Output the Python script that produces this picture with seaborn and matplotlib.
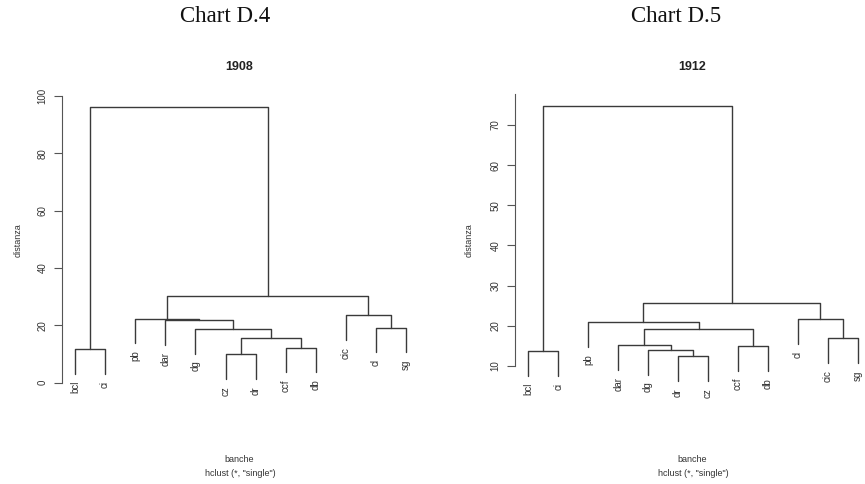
import matplotlib
matplotlib.use("Agg")
import matplotlib.pyplot as plt
import seaborn as sns
import pandas as pd

# ---------------- data ----------------
chart_titles = ["Chart D.4", "Chart D.5"]
panel_titles = ["1908", "1912"]

labels_1908 = ["bcl", "ci", "pb", "dar", "dg", "cz", "dr", "ccf", "db", "cic", "cl", "sg"]
# merge steps (R hclust style): negative = leaf (1-based position), positive = earlier step
merge_a_1908 = [-6, -1, -8, 1, -5, -11, -4, -3, -10, 8, 2]
merge_b_1908 = [-7, -2, -9, 3, 4, -12, 5, 7, 6, 9, 10]
height_1908 = [9.9, 11.6, 12.2, 15.7, 18.7, 19.2, 21.8, 22.3, 23.5, 30.2, 96.0]
yticks_1908 = [0, 20, 40, 60, 80, 100]

labels_1912 = ["bcl", "ci", "pb", "dar", "dg", "dr", "cz", "ccf", "db", "cl", "cic", "sg"]
merge_a_1912 = [-6, -1, -5, -4, -8, -11, 4, -3, -10, 8, 2]
merge_b_1912 = [-7, -2, 1, 3, -9, -12, 5, 7, 6, 9, 10]
height_1912 = [12.5, 13.8, 14.1, 15.2, 15.0, 16.9, 19.2, 20.9, 21.7, 25.7, 74.7]
yticks_1912 = [10, 20, 30, 40, 50, 60, 70]

x_label = "banche"
sub_label = 'hclust (*, "single")'
y_label = "distanza"

# ---------------- style ----------------
sns.set_theme(style="white")
plt.rcParams["font.family"] = ["Liberation Sans", "DejaVu Sans"]

W, H = 865, 484
fig = plt.figure(figsize=(W / 100, H / 100), dpi=100)


def px_axes(x0, x1, y0, y1):
    """axes from pixel box (y measured from top)"""
    return fig.add_axes([x0 / W, 1 - y1 / H, (x1 - x0) / W, (y1 - y0) / H])


def build_segments(labels, ma, mb, heights):
    hang = 0.1 * (max(heights) - min(heights))
    xs, tops, rows, leaves = {}, {}, [], []
    for k, (a, b, h) in enumerate(zip(ma, mb, heights), start=1):
        pts = []
        for c in (a, b):
            if c < 0:
                x = -c - 1
                yb = h - hang
                leaves.append((labels[x], x, yb))
            else:
                x = xs[c]
                yb = tops[c]
            pts.append((x, yb))
        (xa, ya), (xb, yb) = pts
        for px_, py_ in [(xa, ya), (xa, h), (xb, h), (xb, yb)]:
            rows.append({"seg": k, "x": px_, "y": py_})
        xs[k] = (xa + xb) / 2
        tops[k] = h
    return pd.DataFrame(rows), leaves


line_col = "#3a3a3a"
text_col = "#333333"

panels = [
    dict(labels=labels_1908, ma=merge_a_1908, mb=merge_b_1908, h=height_1908,
         yticks=yticks_1908, box=(62, 425, 90, 390), xlim=(-0.432, 11.628),
         ylim=(-2.55, 102.1), spine=(0, 100), center=239, chart_x=225, ylab_x=18),
    dict(labels=labels_1912, ma=merge_a_1912, mb=merge_b_1912, h=height_1912,
         yticks=yticks_1912, box=(515, 863, 90, 390), xlim=(-0.444, 11.175),
         ylim=(4.03, 78.7), spine=(10, 77.6), center=692, chart_x=676, ylab_x=469),
]

for i, p in enumerate(panels):
    ax = px_axes(*p["box"])
    df, leaves = build_segments(p["labels"], p["ma"], p["mb"], p["h"])
    sns.lineplot(data=df, x="x", y="y", units="seg", estimator=None, sort=False,
                 color=line_col, lw=1.0, ax=ax, legend=False)
    for name, x, yb in leaves:
        ax.annotate(name, (x, yb), xytext=(0, -5), textcoords="offset points",
                    rotation=90, ha="center", va="top", fontsize=7, color=text_col,
                    annotation_clip=False)
    ax.set_xlim(*p["xlim"])
    ax.set_ylim(*p["ylim"])
    ax.set_xticks([])
    ax.set_yticks(p["yticks"])
    ax.set_yticklabels([str(t) for t in p["yticks"]], rotation=90, va="center")
    ax.tick_params(axis="y", left=True, length=6, width=0.8, color="#555555",
                   labelsize=7, pad=4.5, labelcolor=text_col)
    for s in ("top", "right", "bottom"):
        ax.spines[s].set_visible(False)
    ax.spines["left"].set_bounds(*p["spine"])
    ax.spines["left"].set_color("#555555")
    ax.spines["left"].set_linewidth(0.8)
    ax.set_xlabel("")
    ax.set_ylabel("")
    ax.patch.set_alpha(0)

    # texts in pixel positions
    fig.text(p["chart_x"] / W, 1 - 16 / H, chart_titles[i], ha="center", va="center",
             fontsize=16.5, family=["Liberation Serif", "DejaVu Serif"], color="#111111")
    fig.text(p["center"] / W, 1 - 67 / H, panel_titles[i], ha="center", va="center",
             fontsize=9, fontweight="bold", color="#222222")
    fig.text(p["center"] / W, 1 - 460 / H, x_label, ha="center", va="center",
             fontsize=6.5, color=text_col)
    fig.text((p["center"] + 1) / W, 1 - 473 / H, sub_label, ha="center", va="center",
             fontsize=6.5, color=text_col)
    fig.text(p["ylab_x"] / W, 1 - 240 / H, y_label, ha="center", va="center",
             rotation=90, fontsize=6.5, color=text_col)

fig.savefig("out.png", dpi=100)
